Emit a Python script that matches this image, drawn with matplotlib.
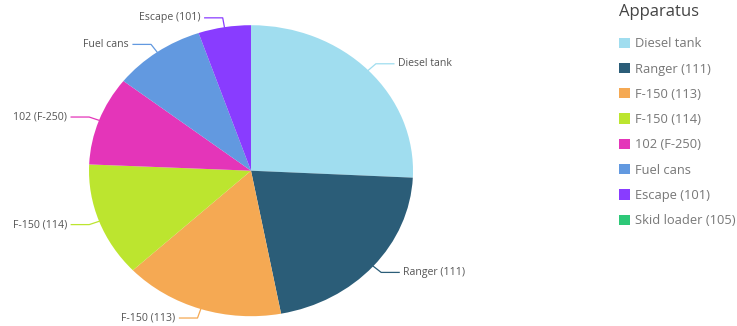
import numpy as np
import matplotlib.pyplot as plt
from matplotlib.patches import Patch

plt.rcParams['font.family'] = ['Open Sans', 'DejaVu Sans']

labels = ['Diesel tank', 'Ranger (111)', 'F-150 (113)', 'F-150 (114)',
          '102 (F-250)', 'Fuel cans', 'Escape (101)', 'Skid loader (105)']
values = [25.8, 21.3, 16.0, 12.7, 9.9, 9.2, 5.25, 0]
colors = ['#a0ddef', '#2b5d78', '#f5a953', '#bce52f',
          '#e435b9', '#6299e0', '#893cff', '#2ec878']

W, H = 737, 326
fig = plt.figure(figsize=(W / 100, H / 100), dpi=100)

# pie area in pixels (the original is slightly stretched horizontally)
cx, cy, rx, ry = 251, 170.7, 162, 145.5
ax = fig.add_axes([(cx - rx) / W, (H - cy - ry) / H, 2 * rx / W, 2 * ry / H])

shown = [i for i, v in enumerate(values) if v > 0]
wedges, _ = ax.pie([values[i] for i in shown], colors=[colors[i] for i in shown],
                   startangle=90, counterclock=False, radius=1,
                   wedgeprops=dict(linewidth=0))
ax.set_aspect('auto')
ax.set_xlim(-1, 1)
ax.set_ylim(-1, 1)
ax.axis('off')

# leader lines + labels
hx = 18 / rx
for w, i in zip(wedges, shown):
    ang = np.deg2rad((w.theta1 + w.theta2) / 2)
    x0, y0 = np.cos(ang), np.sin(ang)
    x1, y1 = 1.065 * x0, 1.065 * y0
    side = 1 if x0 >= 0 else -1
    x2 = x1 + side * hx
    ax.plot([x0, x1, x2], [y0, y1, y1], color=colors[i], lw=0.9, clip_on=False)
    ax.text(x2 + side * 4 / rx, y1, labels[i], ha='left' if side > 0 else 'right',
            va='center', fontsize=7.6, color='#555555', clip_on=False)

handles = [Patch(facecolor=c, edgecolor='none') for c in colors]
leg = fig.legend(handles, labels, loc='upper left',
                 bbox_to_anchor=(607 / W, 1 + 8 / H), frameon=False,
                 title='Apparatus', fontsize=9.3, title_fontsize=12,
                 handlelength=0.85, handleheight=0.85, handletextpad=0.45,
                 labelspacing=0.95, alignment='left', labelcolor='#777777')
leg.get_title().set_color('#444444')
leg._legend_box.sep = 12.7

fig.savefig('out.png', dpi=100)
